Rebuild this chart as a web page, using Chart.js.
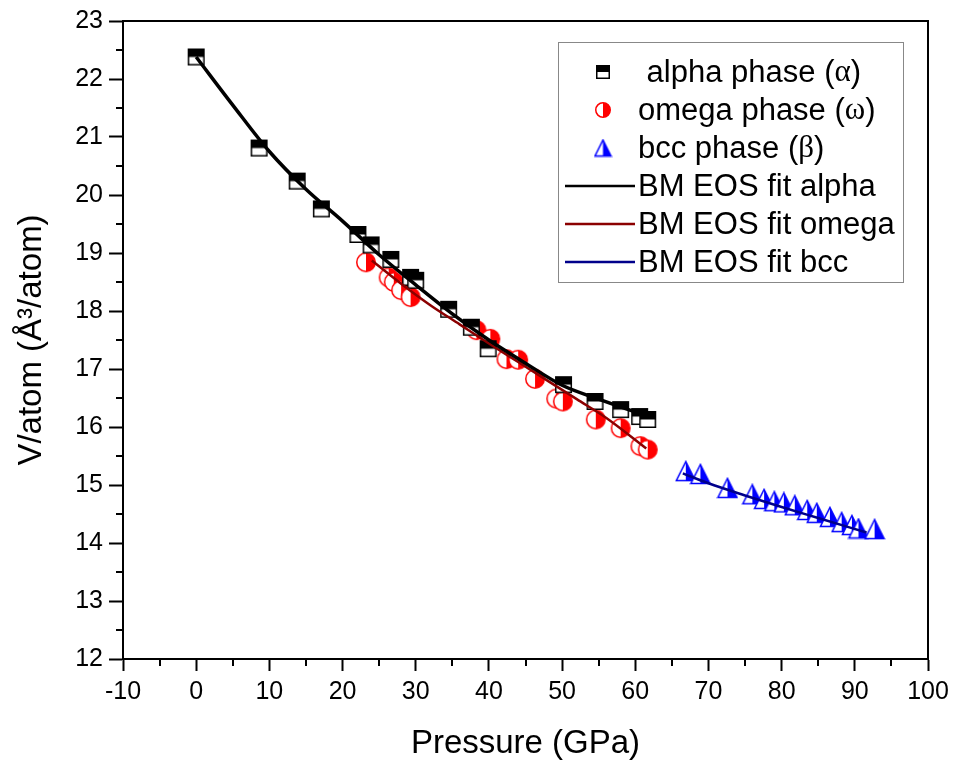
<!DOCTYPE html>
<html>
<head>
<meta charset="utf-8">
<script src="https://cdn.jsdelivr.net/npm/chart.js@4"></script>
<style>
  html, body { margin: 0; padding: 0; background: #fff; }
</style>
</head>
<body>
<canvas id="eos-chart" width="957" height="767"></canvas>
<script>
// Measured volumes per atom vs pressure for the three phases
const alphaP = [0, 8.6, 13.8, 17.1, 22.1, 23.9, 26.6, 29.3, 30.0, 34.5, 37.6, 39.9, 50.2, 54.5, 58.0, 60.6, 61.7];
const alphaV = [22.38, 20.81, 20.24, 19.76, 19.32, 19.14, 18.89, 18.58, 18.53, 18.03, 17.72, 17.35, 16.73, 16.44, 16.30, 16.18, 16.13];

const omegaP = [23.2, 26.3, 27.0, 28.0, 29.3, 38.3, 40.2, 42.4, 44.0, 46.3, 49.2, 50.1, 54.6, 58.0, 60.7, 61.7];
const omegaV = [18.84, 18.58, 18.50, 18.36, 18.24, 17.67, 17.52, 17.17, 17.16, 16.83, 16.49, 16.44, 16.13, 15.98, 15.67, 15.61];

const bccP = [66.9, 68.9, 72.6, 76.0, 77.6, 79.0, 80.3, 81.8, 83.5, 84.8, 86.6, 88.2, 89.6, 90.5, 92.7];
const bccV = [15.24, 15.19, 14.95, 14.84, 14.76, 14.72, 14.70, 14.65, 14.57, 14.52, 14.45, 14.36, 14.31, 14.25, 14.24];

// Birch-Murnaghan fit curves
const fitAlphaP = [0, 5, 10, 15, 20, 25, 30, 35, 40, 45, 50, 55, 62];
const fitAlphaV = [22.38, 21.55, 20.75, 20.10, 19.55, 18.97, 18.45, 17.95, 17.50, 17.10, 16.72, 16.48, 16.17];

const fitOmegaP = [24, 28, 32, 36, 40, 44, 48, 52, 56, 61.5];
const fitOmegaV = [18.87, 18.47, 18.10, 17.77, 17.44, 17.12, 16.80, 16.48, 16.16, 15.63];

const fitBccP = [66.5, 70, 75, 80, 85, 91.6];
const fitBccV = [15.20, 15.03, 14.82, 14.62, 14.43, 14.18];

const labels = [
  ' alpha phase (\u03b1)',
  'omega phase (\u03c9)',
  'bcc phase (\u03b2)',
  'BM EOS fit alpha',
  'BM EOS fit omega',
  'BM EOS fit bcc'
];

const FONT = "'Liberation Sans', Arial, sans-serif";

function toPoints(xs, ys) {
  return xs.map((x, i) => ({x: x, y: ys[i]}));
}

// half-filled marker glyphs
function halfSquare(size, color) {
  const c = document.createElement('canvas');
  c.width = c.height = size + 2;
  const g = c.getContext('2d');
  g.fillStyle = '#fff';
  g.fillRect(1, 1, size, size);
  g.fillStyle = color;
  g.fillRect(1, 1, size, size / 2);
  g.lineWidth = 1.5;
  g.strokeStyle = color;
  g.strokeRect(1.75, 1.75, size - 1.5, size - 1.5);
  return c;
}

function halfCircle(size, color) {
  const c = document.createElement('canvas');
  c.width = c.height = size + 2;
  const g = c.getContext('2d');
  const r = size / 2, cx = r + 1, cy = r + 1;
  g.fillStyle = '#fff';
  g.beginPath(); g.arc(cx, cy, r - 0.75, 0, Math.PI * 2); g.fill();
  g.fillStyle = color;
  g.beginPath(); g.moveTo(cx, cy); g.arc(cx, cy, r - 0.75, -Math.PI / 2, Math.PI / 2); g.closePath(); g.fill();
  g.lineWidth = 1.5;
  g.strokeStyle = color;
  g.beginPath(); g.arc(cx, cy, r - 0.75, 0, Math.PI * 2); g.stroke();
  return c;
}

function halfTriangle(size, color) {
  const c = document.createElement('canvas');
  c.width = c.height = size + 2;
  const g = c.getContext('2d');
  const top = 1.5, bot = size + 0.5, left = 1.5, right = size + 0.5, mid = (size + 2) / 2;
  g.fillStyle = '#fff';
  g.beginPath(); g.moveTo(mid, top); g.lineTo(right, bot); g.lineTo(left, bot); g.closePath(); g.fill();
  g.fillStyle = color;
  g.beginPath(); g.moveTo(mid, top); g.lineTo(right, bot); g.lineTo(mid, bot); g.closePath(); g.fill();
  g.lineWidth = 1.5;
  g.strokeStyle = color;
  g.lineJoin = 'miter';
  g.beginPath(); g.moveTo(mid, top); g.lineTo(right, bot); g.lineTo(left, bot); g.closePath(); g.stroke();
  return c;
}

const squareMark = halfSquare(17, '#000');
const circleMark = halfCircle(20, '#ff0000');
const triangleMark = halfTriangle(20, '#0000ff');

// slightly smaller copies for the legend
const legendMarks = [halfSquare(14, '#000'), halfCircle(16, '#ff0000'), halfTriangle(17, '#0000ff')];

const data = {
  datasets: [{
    label: labels[0],
    data: toPoints(alphaP, alphaV),
    showLine: false,
    pointStyle: squareMark,
    borderColor: '#000',
    order: 2
  }, {
    label: labels[1],
    data: toPoints(omegaP, omegaV),
    showLine: false,
    pointStyle: circleMark,
    borderColor: '#ff0000',
    order: 2
  }, {
    label: labels[2],
    data: toPoints(bccP, bccV),
    showLine: false,
    pointStyle: triangleMark,
    borderColor: '#0000ff',
    order: 2
  }, {
    label: labels[3],
    data: toPoints(fitAlphaP, fitAlphaV),
    showLine: true,
    borderColor: '#000',
    borderWidth: 3.5,
    pointRadius: 0,
    cubicInterpolationMode: 'monotone',
    order: 0
  }, {
    label: labels[4],
    data: toPoints(fitOmegaP, fitOmegaV),
    showLine: true,
    borderColor: '#8b0000',
    borderWidth: 2.5,
    pointRadius: 0,
    cubicInterpolationMode: 'monotone',
    order: 0
  }, {
    label: labels[5],
    data: toPoints(fitBccP, fitBccV),
    showLine: true,
    borderColor: '#00008b',
    borderWidth: 2.5,
    pointRadius: 0,
    cubicInterpolationMode: 'monotone',
    order: 0
  }]
};

// writes a label, switching to a serif face for Greek letters
function drawMixedText(ctx, text, x, y, size) {
  let cx = x;
  for (const ch of text) {
    const greek = /[\u0370-\u03ff]/.test(ch);
    ctx.font = greek ? size + "px 'Liberation Serif', 'Times New Roman', serif" : size + 'px ' + FONT;
    ctx.fillText(ch, cx, y);
    cx += ctx.measureText(ch).width;
  }
}

// boxed legend in the upper right, markers on top and fit lines below
const phaseLegend = {
  id: 'phaseLegend',
  afterDraw(chart) {
    const ctx = chart.ctx;
    const box = {left: 558, top: 42, width: 345, height: 240};
    ctx.save();
    ctx.fillStyle = '#fff';
    ctx.fillRect(box.left, box.top, box.width, box.height);
    ctx.strokeStyle = '#888';
    ctx.lineWidth = 1;
    ctx.strokeRect(box.left + 0.5, box.top + 0.5, box.width, box.height);
    ctx.textBaseline = 'middle';
    chart.data.datasets.forEach((ds, i) => {
      const y = 72 + i * 38;
      if (ds.showLine) {
        ctx.strokeStyle = ds.borderColor;
        ctx.lineWidth = 2.5;
        ctx.beginPath();
        ctx.moveTo(565, y);
        ctx.lineTo(635, y);
        ctx.stroke();
      } else {
        const img = legendMarks[i];
        ctx.drawImage(img, 603 - img.width / 2, y - img.height / 2);
      }
      ctx.fillStyle = '#000';
      drawMixedText(ctx, ds.label, 638, y + 1, 31);
    });
    ctx.restore();
  }
};

// minor ticks halfway between labels, plus the closed frame
const frameTicks = {
  id: 'frameTicks',
  afterDraw(chart) {
    const {ctx, chartArea: a, scales: {x, y}} = chart;
    ctx.save();
    ctx.strokeStyle = '#000';
    ctx.lineWidth = 2;
    ctx.strokeRect(a.left, a.top, a.right - a.left, a.bottom - a.top);
    ctx.beginPath();
    for (let v = x.min + 5; v < x.max; v += 10) {
      const px = Math.round(x.getPixelForValue(v));
      ctx.moveTo(px, a.bottom);
      ctx.lineTo(px, a.bottom + 7);
    }
    for (let v = y.min + 0.5; v < y.max; v += 1) {
      const py = Math.round(y.getPixelForValue(v));
      ctx.moveTo(a.left, py);
      ctx.lineTo(a.left - 7, py);
    }
    ctx.stroke();
    ctx.restore();
  }
};

const config = {
  type: 'scatter',
  data: data,
  options: {
    responsive: false,
    animation: false,
    layout: {
      padding: {top: 17, right: 29, left: 0, bottom: 0}
    },
    elements: {
      point: {radius: 9}
    },
    plugins: {
      legend: {display: false},
      tooltip: {enabled: false}
    },
    scales: {
      x: {
        type: 'linear',
        min: -10,
        max: 100,
        afterFit: scale => { scale.height = 108; },
        border: {display: true, color: '#000', width: 2},
        grid: {
          drawOnChartArea: false,
          drawTicks: true,
          tickLength: 12,
          tickWidth: 2,
          tickColor: '#000'
        },
        ticks: {
          stepSize: 10,
          autoSkip: false,
          maxRotation: 0,
          padding: 6,
          color: '#000',
          font: {family: FONT, size: 25}
        },
        title: {
          display: true,
          text: 'Pressure (GPa)',
          color: '#000',
          font: {family: FONT, size: 33},
          padding: {top: 0, bottom: 3}
        }
      },
      y: {
        type: 'linear',
        min: 12,
        max: 23,
        afterFit: scale => { scale.width = 123; },
        border: {display: true, color: '#000', width: 2},
        grid: {
          drawOnChartArea: false,
          drawTicks: true,
          tickLength: 14,
          tickWidth: 2,
          tickColor: '#000'
        },
        ticks: {
          stepSize: 1,
          autoSkip: false,
          padding: 6,
          color: '#000',
          font: {family: FONT, size: 25}
        },
        title: {
          display: true,
          text: 'V/atom (\u00c5\u00b3/atom)',
          color: '#000',
          font: {family: FONT, size: 33},
          padding: {top: 12, bottom: 0}
        }
      }
    }
  },
  plugins: [phaseLegend, frameTicks]
};

const eosChart = new Chart(document.getElementById('eos-chart'), config);
</script>
</body>
</html>
